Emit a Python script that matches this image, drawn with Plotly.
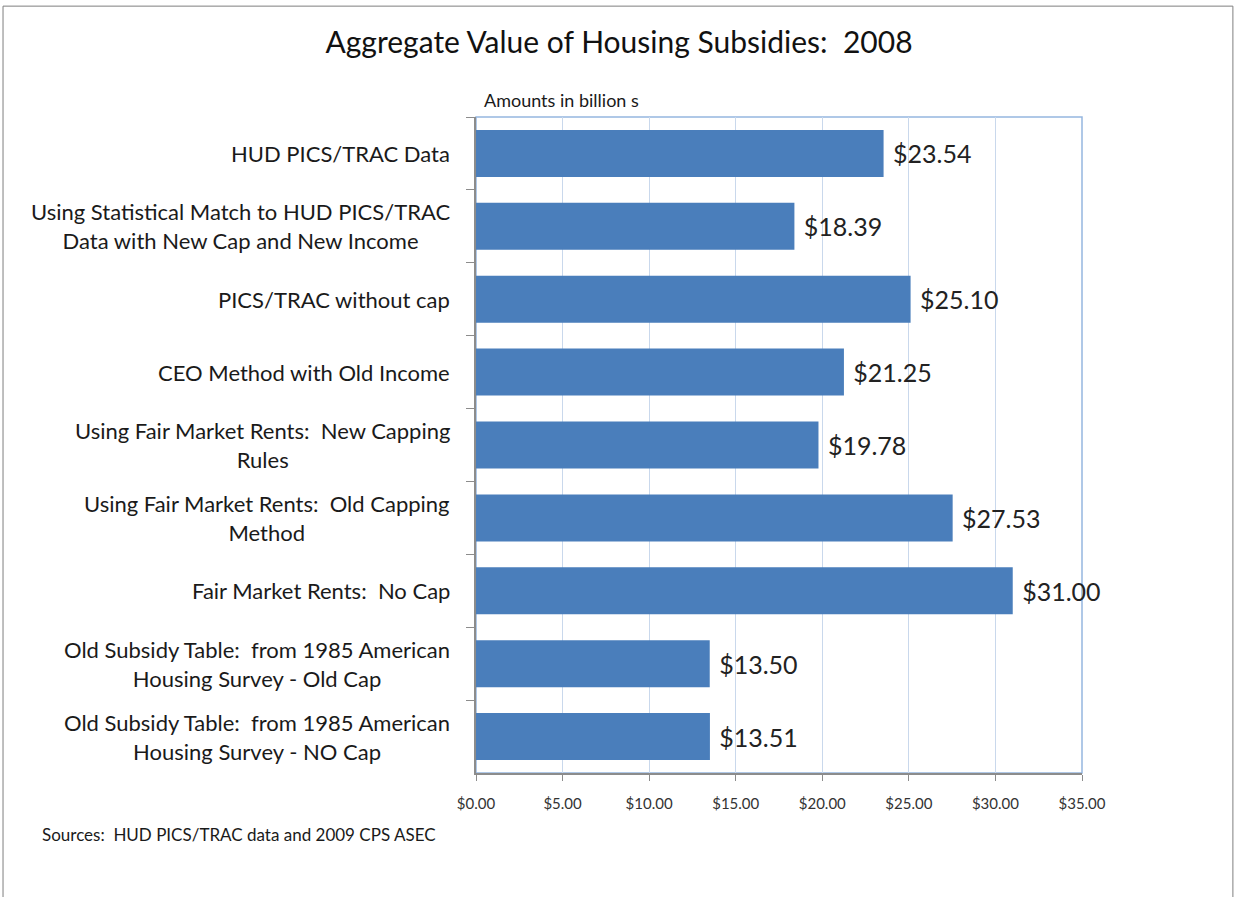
"""
housing_subsidies.py — Aggregate value of housing subsidies, 2008
"""

import plotly.graph_objects as go

# Categories, top to bottom as they appear on the chart
CATEGORIES = [
    "HUD PICS/TRAC Data",
    "Using Statistical Match to HUD PICS/TRAC<br>Data with New Cap and New Income",
    "PICS/TRAC without cap",
    "CEO Method with Old Income",
    "Using Fair Market Rents:  New Capping<br>Rules",
    "Using Fair Market Rents:  Old Capping<br>Method",
    "Fair Market Rents:  No Cap",
    "Old Subsidy Table:  from 1985 American<br>Housing Survey - Old Cap",
    "Old Subsidy Table:  from 1985 American<br>Housing Survey - NO Cap",
]

# Amounts in billions of dollars
AMOUNTS = [23.54, 18.39, 25.10, 21.25, 19.78, 27.53, 31.00, 13.50, 13.51]

X_RANGE = [0, 35]
X_STEP = 5

BAR_COLOR = "#4A7EBB"
GRID_COLOR = "#C9D8EC"
FRAME_COLOR = "#95B6E0"
AXIS_COLOR = "#8C8C8C"
FONT = "Lato"

fig = go.Figure()
fig.add_trace(go.Bar(
    x=AMOUNTS, y=CATEGORIES,
    orientation="h",
    marker=dict(color=BAR_COLOR, line=dict(width=0)),
    text=[f"\u00a0${v:.2f}" for v in AMOUNTS],
    textposition="outside",
    textfont=dict(family=FONT, size=25, color="#222222"),
    cliponaxis=False,
    hoverinfo="x+y",
))

# Category labels, centred in their block like the original
for cat in CATEGORIES:
    fig.add_annotation(
        x=0, y=cat, xref="x", yref="y",
        text=cat, showarrow=False,
        xanchor="right", yanchor="middle", align="center",
        xshift=-24,
        font=dict(family=FONT, size=22, color="#1a1a1a"),
    )

fig.add_annotation(
    x=0, y=1, xref="paper", yref="paper",
    text="Amounts in billion s", showarrow=False,
    xanchor="left", yanchor="bottom", xshift=6, yshift=4,
    font=dict(family=FONT, size=18, color="#1a1a1a"),
)
fig.add_annotation(
    x=0, y=0, xref="paper", yref="paper",
    text="Sources:  HUD PICS/TRAC data and 2009 CPS ASEC", showarrow=False,
    xanchor="left", yanchor="top", xshift=-436, yshift=-49,
    font=dict(family=FONT, size=17, color="#1a1a1a"),
)

# plot-area frame (top and right edges in light blue)
fig.add_shape(type="rect", xref="paper", yref="paper", x0=0, y0=0, x1=1, y1=1,
              line=dict(color=FRAME_COLOR, width=1.5), layer="below")
# outer chart border (top, left, right)
fig.add_shape(type="path", xref="paper", yref="paper",
              path="M -0.7805,-0.19 L -0.7805,1.169 L 1.249,1.169 L 1.249,-0.19",
              line=dict(color="#7f7f7f", width=1))

fig.update_layout(
    title=dict(
        text="Aggregate Value of Housing Subsidies:  2008",
        x=0.5, xanchor="center", y=0.953, yanchor="middle",
        font=dict(family=FONT, size=30, color="#111111"),
    ),
    width=1238, height=897,
    margin=dict(l=476, r=156, t=117, b=124),
    plot_bgcolor="white",
    paper_bgcolor="white",
    showlegend=False,
    bargap=0.355,
    font=dict(family=FONT),
)
fig.update_xaxes(
    range=X_RANGE, dtick=X_STEP, tick0=0,
    tickprefix="$", tickformat=".2f",
    showgrid=True, gridcolor=GRID_COLOR, gridwidth=1,
    showline=True, linecolor=AXIS_COLOR, linewidth=1.5,
    ticks="outside", ticklen=6, tickcolor=AXIS_COLOR,
    tickfont=dict(family=FONT, size=15, color="#333333"),
    ticklabelstandoff=10,
    zeroline=False, fixedrange=True,
)
fig.update_yaxes(
    autorange="reversed",
    showticklabels=False,
    showgrid=False,
    showline=True, linecolor=AXIS_COLOR, linewidth=1.5,
    ticks="outside", ticklen=8, tickcolor=AXIS_COLOR, tickson="boundaries",
    zeroline=False, fixedrange=True,
)

fig.write_html("out.html", config={"displayModeBar": False},
               post_script="document.body.style.margin='0';")
